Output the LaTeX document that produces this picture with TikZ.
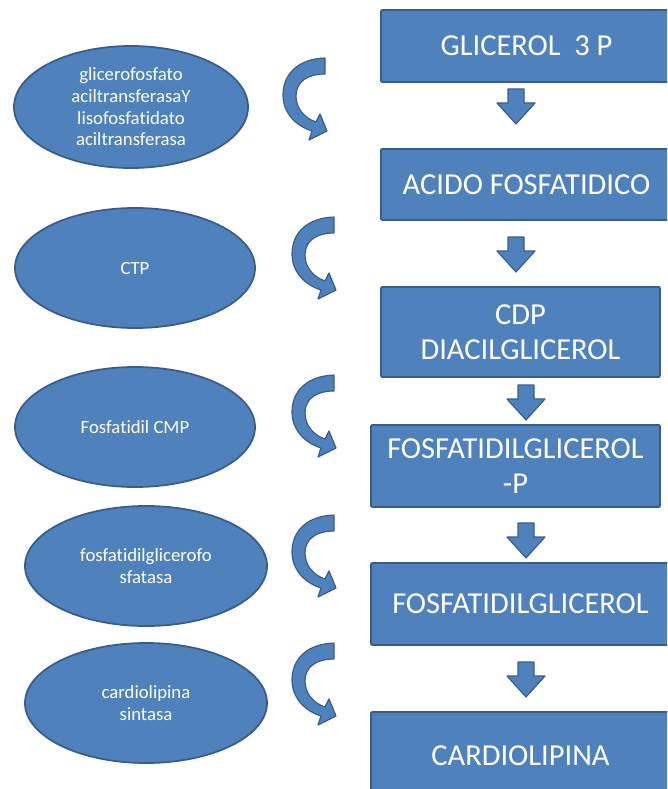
\documentclass[tikz,border=0pt]{standalone}
\usepackage{fontspec}
\setmainfont{Carlito}[Ligatures=CommonOff]
\usetikzlibrary{shapes.geometric}
\definecolor{boxblue}{HTML}{4F81BD}
\definecolor{edgeblue}{HTML}{385D8A}

\begin{document}
\begin{tikzpicture}[
        x=0.03cm, y=-0.03cm,
        stepbox/.style={rectangle, draw=edgeblue, fill=boxblue, line width=1.5pt, rounded corners=1pt,
            text=white, font=\fontsize{26}{30}\selectfont, align=center, inner sep=0pt},
        enzyme/.style={ellipse, draw=edgeblue, fill=boxblue, line width=1.5pt, text=white,
            font=\fontsize{16}{18.5}\selectfont, align=center, inner sep=0pt,
            minimum width=7.2cm, minimum height=3.6cm},
        downarrow/.pic={
            \filldraw[fill=boxblue, draw=edgeblue, line width=1pt, line join=round]
                (-8,0) -- (8,0) -- (8,14) -- (19,14) -- (0,35) -- (-19,14) -- (-8,14) -- cycle;
        },
        bendarrow/.pic={
            \filldraw[fill=boxblue, draw=edgeblue, line width=1pt, line join=round]
                (42,0) .. controls (15,1) and (0,16) .. (0,37)
                .. controls (0,55) and (13,68) .. (29,73) -- (26,82) -- (44,73) -- (37,56) -- (33,64)
                .. controls (21,60) and (13,50) .. (13,38)
                .. controls (13,24) and (24,16) .. (42,16) -- cycle;
        }
    ]
        \useasboundingbox (0,0) rectangle (667,789);
        \clip (0,0) rectangle (667,789);

        % pathway
        \node[stepbox, minimum width=8.73cm, minimum height=2.16cm] (glicerol) at (526.5,46) {GLICEROL \ 3 P};
        \node[stepbox, minimum width=8.73cm, minimum height=2.13cm] (acido) at (526.5,184.5) {ACIDO FOSFATIDICO};
        \node[stepbox, minimum width=8.37cm, minimum height=2.7cm] (cdp) at (520.5,332) {CDP\\DIACILGLICEROL};
        \node[stepbox, minimum width=8.67cm, minimum height=2.46cm] (pgp) at (515.5,466) {FOSFATIDILGLICEROL\\-P};
        \node[stepbox, minimum width=8.97cm, minimum height=2.46cm] (pg) at (520.5,604) {FOSFATIDILGLICEROL};
        \node[stepbox, minimum width=8.97cm, minimum height=2.64cm] (cardio) at (520.5,756) {CARDIOLIPINA};

        \pic at (516,89) {downarrow};
        \pic at (516,237) {downarrow};
        \pic at (526,385) {downarrow};
        \pic at (526,523) {downarrow};
        \pic at (526,662) {downarrow};

        % enzymes
        \node[enzyme, minimum width=7.02cm, minimum height=3.66cm] (aciltrans) at (131,107)
            {glicerofosfato\\aciltransferasaY\\lisofosfatidato\\aciltransferasa};
        \node[enzyme] (ctp) at (135,268) {CTP};
        \node[enzyme] (cmp) at (135,427) {Fosfatidil CMP};
        \node[enzyme, minimum width=7.26cm] (fosfatasa) at (146,566) {fosfatidilglicerofo\\sfatasa};
        \node[enzyme, minimum width=7.26cm] (sintasa) at (146,703) {cardiolipina\\sintasa};

        \pic at (283,58) {bendarrow};
        \pic at (292,217) {bendarrow};
        \pic at (292,375) {bendarrow};
        \pic at (292,515) {bendarrow};
        \pic at (292,643) {bendarrow};
    \end{tikzpicture}
\end{document}
